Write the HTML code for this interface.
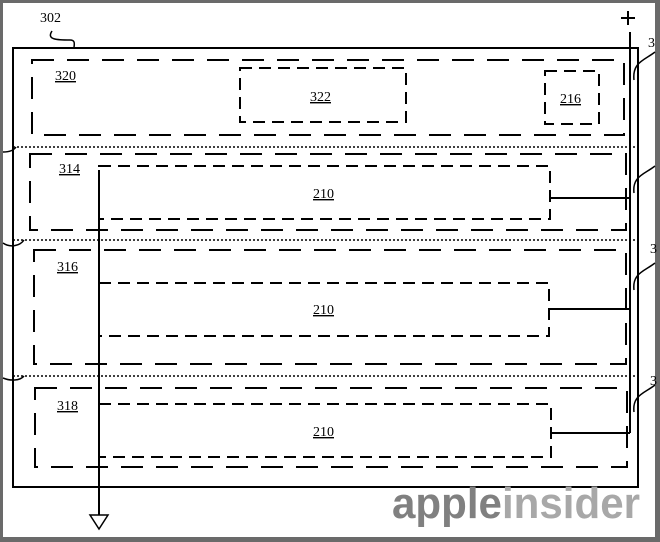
<!DOCTYPE html>
<html><head><style>
html,body{margin:0;padding:0;background:#6a6a6a;}
svg{display:block;}
.s{font-family:"Liberation Serif",serif;}
</style></head><body>
<svg width="660" height="542" viewBox="0 0 660 542" xmlns="http://www.w3.org/2000/svg">
<rect x="0" y="0" width="660" height="542" fill="#6a6a6a"/>
<rect x="3" y="3" width="652" height="534" fill="#fff"/>
<g fill="none" stroke="#000">
<rect x="13" y="48" width="625" height="439" stroke-width="2"/>
<path d="M52 31 C46 40 58 40 70 40 C76 40 74 45 74 48" stroke-width="1.5"/>
<g stroke-width="2" stroke-dasharray="22,13">
<rect x="32" y="60" width="592" height="75"/>
<rect x="30" y="154" width="596" height="76"/>
<rect x="34" y="250" width="592" height="114"/>
<rect x="35" y="388" width="592" height="79"/>
</g>
<g stroke-width="2" stroke-dasharray="12,7">
<rect x="240" y="68" width="166" height="54"/>
<rect x="545" y="71" width="54" height="53"/>
<rect x="99" y="166" width="451" height="53"/>
<rect x="99" y="283" width="450" height="53"/>
<rect x="99" y="404" width="452" height="53"/>
</g>
<g stroke-width="1.5" stroke-dasharray="2,2">
<line x1="13" y1="147" x2="638" y2="147"/>
<line x1="13" y1="240" x2="638" y2="240"/>
<line x1="13" y1="376" x2="638" y2="376"/>
</g>
<line x1="99" y1="170" x2="99" y2="515" stroke-width="2"/>
<path d="M90 515 L108 515 L99 529 Z" stroke-width="1.5"/>
<line x1="630" y1="32" x2="630" y2="433" stroke-width="2"/>
<line x1="551" y1="198" x2="630" y2="198" stroke-width="2"/>
<line x1="549" y1="309" x2="630" y2="309" stroke-width="2"/>
<line x1="551" y1="433" x2="630" y2="433" stroke-width="2"/>
<line x1="628" y1="11" x2="628" y2="25" stroke-width="2"/>
<line x1="621" y1="18" x2="635" y2="18" stroke-width="2"/>
<g stroke-width="1.5">
<path d="M634 80 C632 62 645 60 655 52"/>
<path d="M634 193 C632 176 645 174 655 166"/>
<path d="M634 290 C632 273 645 271 655 263"/>
<path d="M634 412 C632 395 645 393 655 385"/>
<path d="M3 152 C10 152 14 150 16 147"/>
<path d="M3 243 C10 248 20 246 24 240"/>
<path d="M3 378 C10 381 20 381 24 376"/>
</g>
</g>
<g font-size="14" fill="#000" class="s">
<text x="40" y="22">302</text>
<text x="55" y="80" text-decoration="underline">320</text>
<text x="310" y="101" text-decoration="underline">322</text>
<text x="560" y="103" text-decoration="underline">216</text>
<text x="59" y="173" text-decoration="underline">314</text>
<text x="313" y="198" text-decoration="underline">210</text>
<text x="57" y="271" text-decoration="underline">316</text>
<text x="313" y="314" text-decoration="underline">210</text>
<text x="57" y="410" text-decoration="underline">318</text>
<text x="313" y="436" text-decoration="underline">210</text>
<text x="648" y="47">3</text>
<text x="650" y="253">3</text>
<text x="650" y="385">3</text>
</g>
<text x="392" y="518" style="font-family:'Liberation Sans',sans-serif;font-weight:bold;font-size:44px" textLength="248" lengthAdjust="spacingAndGlyphs"><tspan fill="#808080">apple</tspan><tspan fill="#a8a8a8">insider</tspan></text>
</svg>
</body></html>
